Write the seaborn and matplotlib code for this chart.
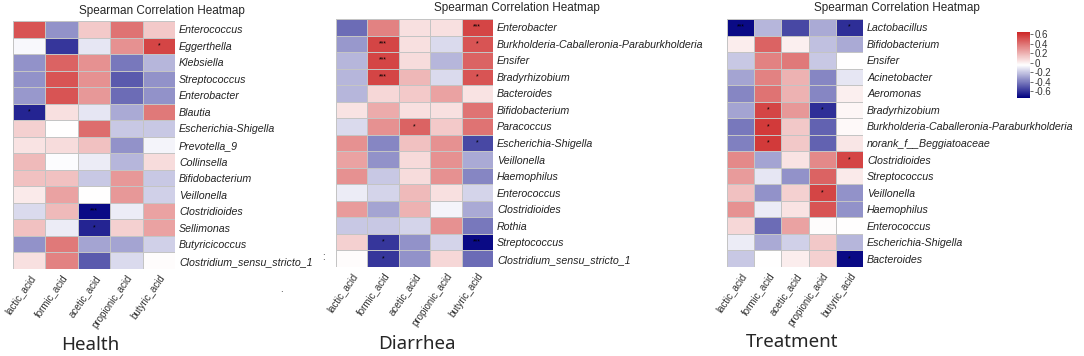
import numpy as np
import pandas as pd
import seaborn as sns
import matplotlib.pyplot as plt
from matplotlib.colors import LinearSegmentedColormap

sns.set_style('white')
plt.rcParams['font.family'] = ['Liberation Sans', 'DejaVu Sans']

acids = ['lactic_acid', 'formic_acid', 'acetic_acid', 'propionic_acid', 'butyric_acid']

health_taxa = ['Enterococcus', 'Eggerthella', 'Klebsiella', 'Streptococcus', 'Enterobacter',
               'Blautia', 'Escherichia-Shigella', 'Prevotella_9', 'Collinsella',
               'Bifidobacterium', 'Veillonella', 'Clostridioides', 'Sellimonas',
               'Butyricicoccus', 'Clostridium_sensu_stricto_1']
health_rho = [[0.50, -0.35, 0.12, 0.40, 0.12],
              [-0.07, -0.60, -0.12, 0.30, 0.55],
              [-0.35, 0.45, 0.30, -0.42, -0.25],
              [-0.35, 0.50, 0.30, -0.50, -0.35],
              [-0.33, 0.50, 0.28, -0.45, -0.35],
              [-0.65, 0.05, -0.12, -0.28, 0.38],
              [0.10, -0.05, 0.42, -0.20, -0.20],
              [0.04, 0.06, 0.15, -0.35, -0.08],
              [0.17, -0.06, -0.10, -0.25, 0.06],
              [0.15, 0.15, -0.20, 0.28, -0.20],
              [0.02, 0.25, -0.05, 0.28, -0.18],
              [-0.15, 0.17, -0.72, -0.10, 0.25],
              [0.15, -0.10, -0.65, 0.10, 0.25],
              [-0.35, 0.38, -0.30, -0.30, -0.18],
              [0.05, 0.35, -0.50, -0.15, -0.04]]
health_stars = [(1, 4, '*'), (5, 0, '*'), (11, 2, '***'), (12, 2, '*')]

diarrhea_taxa = ['Enterobacter', 'Burkholderia-Caballeronia-Paraburkholderia', 'Ensifer',
                 'Bradyrhizobium', 'Bacteroides', 'Bifidobacterium', 'Paracoccus',
                 'Escherichia-Shigella', 'Veillonella', 'Haemophilus', 'Enterococcus',
                 'Clostridioides', 'Rothia', 'Streptococcus', 'Clostridium_sensu_stricto_1']
diarrhea_rho = [[-0.45, 0.35, 0.05, 0.05, 0.55],
                [-0.33, 0.55, 0.05, -0.15, 0.50],
                [-0.25, 0.55, 0.06, -0.25, 0.45],
                [-0.25, 0.55, 0.18, -0.15, 0.50],
                [-0.25, 0.08, 0.12, 0.25, 0.04],
                [0.04, 0.22, 0.05, 0.05, 0.40],
                [-0.15, 0.30, 0.45, 0.12, 0.40],
                [0.30, -0.38, 0.15, 0.30, -0.55],
                [0.25, -0.35, 0.07, 0.30, -0.28],
                [0.30, -0.20, 0.06, 0.30, -0.38],
                [-0.10, -0.17, 0.17, 0.05, -0.17],
                [0.27, -0.30, 0.20, -0.08, -0.28],
                [-0.20, -0.20, -0.17, 0.30, -0.42],
                [0.10, -0.60, -0.35, -0.17, -0.72],
                [-0.04, -0.60, -0.35, 0.08, -0.45]]
diarrhea_stars = [(0, 4, '***'), (1, 1, '***'), (1, 4, '*'), (2, 1, '***'), (3, 1, '***'),
                  (3, 4, '*'), (6, 2, '*'), (7, 4, '*'), (13, 1, '*'), (13, 4, '***'),
                  (14, 1, '*')]

treatment_taxa = ['Lactobacillus', 'Bifidobacterium', 'Ensifer', 'Acinetobacter', 'Aeromonas',
                  'Bradyrhizobium', 'Burkholderia-Caballeronia-Paraburkholderia',
                  'norank_f__Beggiatoaceae', 'Clostridioides', 'Streptococcus', 'Veillonella',
                  'Haemophilus', 'Enterococcus', 'Escherichia-Shigella', 'Bacteroides']
treatment_rho = [[-0.72, -0.25, -0.55, -0.28, -0.62],
                 [0.01, 0.45, 0.00, -0.22, -0.28],
                 [-0.20, 0.35, 0.38, -0.20, -0.05],
                 [-0.30, 0.35, 0.20, -0.38, -0.12],
                 [-0.38, 0.40, 0.20, -0.38, 0.00],
                 [-0.30, 0.55, 0.28, -0.62, -0.02],
                 [-0.42, 0.58, 0.13, -0.48, -0.03],
                 [-0.40, 0.58, 0.13, -0.48, 0.03],
                 [0.33, -0.30, 0.04, 0.33, 0.55],
                 [0.27, -0.12, -0.35, 0.45, 0.02],
                 [0.15, -0.35, 0.10, 0.55, -0.35],
                 [0.30, -0.10, 0.04, 0.50, -0.35],
                 [0.08, -0.45, 0.25, -0.04, -0.05],
                 [-0.10, -0.28, -0.18, 0.13, -0.25],
                 [-0.20, -0.05, 0.01, 0.10, -0.72]]
treatment_stars = [(0, 0, '***'), (0, 4, '*'), (5, 1, '*'), (5, 3, '*'), (6, 1, '*'),
                   (7, 1, '*'), (8, 4, '*'), (10, 3, '*'), (14, 4, '*')]

group_names = ['Health', 'Diarrhea', 'Treatment']
cbar_ticks = [0.6, 0.4, 0.2, 0, -0.2, -0.4, -0.6]

W, H = 1084, 356
cmap = LinearSegmentedColormap.from_list('nwf', ['#000080', '#FFFFFF', '#CD2626'])
vmin, vmax = -0.75, 0.65


def px_axes(fig, left, top, right, bottom):
    return fig.add_axes([left / W, 1 - bottom / H, (right - left) / W, (bottom - top) / H])


def draw_panel(fig, box, taxa, rho, stars, title_xy, name_xy, name):
    df = pd.DataFrame(rho, index=taxa, columns=acids)
    annot = np.full(df.shape, '', dtype=object)
    for r, c, s in stars:
        annot[r, c] = s
    ax = px_axes(fig, *box)
    hm = sns.heatmap(df, ax=ax, cmap=cmap, vmin=vmin, vmax=vmax, cbar=False,
                     linewidths=0.6, linecolor='#c4c4c4', annot=annot, fmt='',
                     annot_kws={'size': 5, 'color': 'black'})
    ax.yaxis.tick_right()
    ax.set_yticklabels(taxa, rotation=0, fontsize=7.7, style='italic', color='#222222')
    ax.set_xticklabels(acids, rotation=55, ha='right', rotation_mode='anchor',
                       fontsize=7, color='#333333')
    ax.tick_params(length=0, pad=3)
    ax.set_xlabel('')
    ax.set_ylabel('')
    fig.text(title_xy[0] / W, 1 - title_xy[1] / H, 'Spearman Correlation Heatmap',
             ha='center', va='center', fontsize=8.5)
    fig.text(name_xy[0] / W, 1 - name_xy[1] / H, name, ha='center', va='center',
             fontsize=13.5, family=['Noto Sans', 'DejaVu Sans'])
    return hm


fig = plt.figure(figsize=(W / 100, H / 100), dpi=100)

hm = draw_panel(fig, (13, 21, 175, 269), health_taxa, health_rho, health_stars,
                (162, 11), (90, 345), group_names[0])
draw_panel(fig, (336, 19, 493, 267), diarrhea_taxa, diarrhea_rho, diarrhea_stars,
           (517, 8), (417, 344), group_names[1])
draw_panel(fig, (727, 19, 863, 267), treatment_taxa, treatment_rho, treatment_stars,
           (897, 8), (792, 342), group_names[2])

cax = px_axes(fig, 1017, 32, 1030, 98)
cb = fig.colorbar(hm.collections[0], cax=cax)
cb.outline.set_visible(False)
cb.set_ticks(cbar_ticks)
cb.set_ticklabels(['0.6', '0.4', '0.2', '0', '-0.2', '-0.4', '-0.6'])
cax.tick_params(labelsize=7, length=2, width=0.5, pad=1, colors='#333333')

# stray marks from the source image
fig.text(280 / W, 1 - 292 / H, '.', fontsize=7)
fig.text(322 / W, 1 - 260 / H, ':', fontsize=7)

fig.savefig('out.png', dpi=100)
